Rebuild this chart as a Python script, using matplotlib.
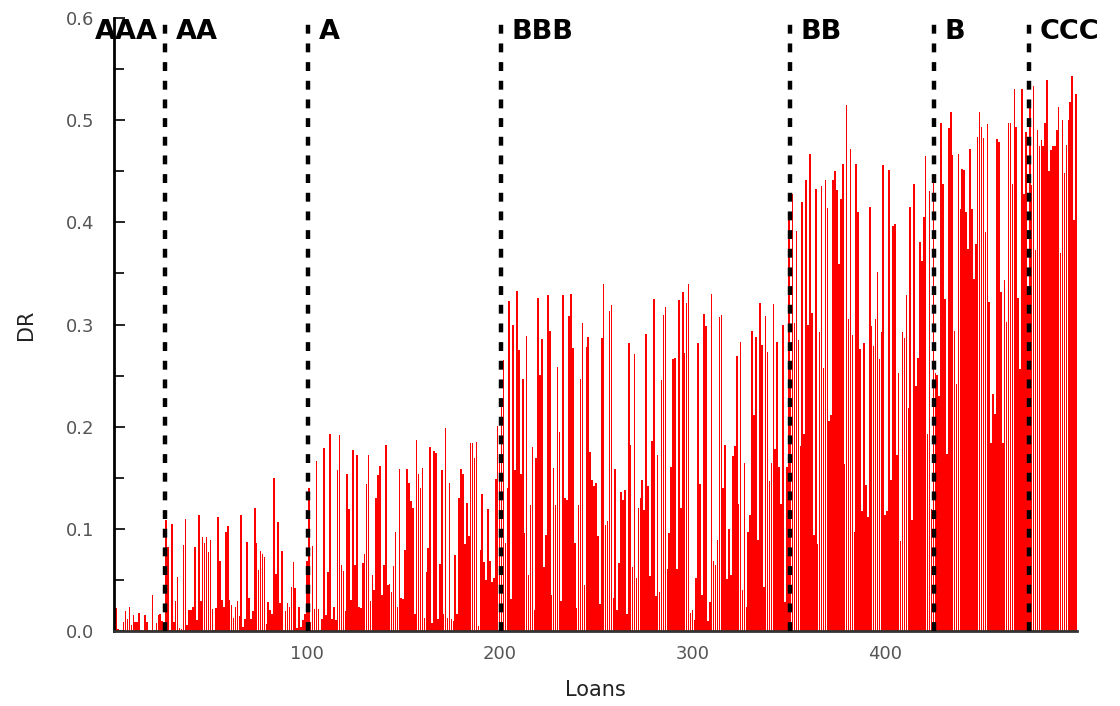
import numpy as np
import matplotlib
matplotlib.use("Agg")
import matplotlib.pyplot as plt

# Default rate per loan, grouped by rating class
dr_aaa = [0.023, 0.002, 0.001, 0.0, 0.009, 0.020, 0.012, 0.024, 0.006, 0.016,
          0.009, 0.009, 0.018, 0.001, 0.0, 0.016, 0.009, 0.001, 0.0, 0.035,
          0.001, 0.008, 0.016, 0.017, 0.010, 0.005]
dr_aa = [0.109, 0.082, 0.001, 0.105, 0.009, 0.029, 0.053, 0.003, 0.002, 0.084,
         0.110, 0.006, 0.021, 0.021, 0.024, 0.082, 0.011, 0.114, 0.029, 0.092,
         0.086, 0.092, 0.077, 0.089, 0.022, 0.001, 0.023, 0.112, 0.069, 0.030,
         0.024, 0.097, 0.103, 0.030, 0.025, 0.013, 0.024, 0.029, 0.015, 0.114,
         0.004, 0.012, 0.087, 0.032, 0.012, 0.020, 0.120, 0.086, 0.060, 0.078,
         0.075, 0.072, 0.007, 0.028, 0.021, 0.017, 0.150, 0.056, 0.107, 0.027,
         0.078, 0.001, 0.020, 0.027, 0.024, 0.043, 0.068, 0.042, 0.003, 0.024,
         0.004, 0.011, 0.017, 0.069]
dr_a = [0.140, 0.009, 0.083, 0.022, 0.166, 0.022, 0.001, 0.012, 0.179, 0.016,
        0.058, 0.193, 0.012, 0.024, 0.011, 0.158, 0.192, 0.065, 0.059, 0.020,
        0.154, 0.119, 0.030, 0.177, 0.065, 0.172, 0.024, 0.023, 0.067, 0.075,
        0.144, 0.172, 0.029, 0.055, 0.040, 0.130, 0.153, 0.162, 0.035, 0.065,
        0.182, 0.045, 0.046, 0.038, 0.064, 0.097, 0.024, 0.159, 0.032, 0.031,
        0.079, 0.159, 0.145, 0.127, 0.120, 0.017, 0.187, 0.154, 0.140, 0.160,
        0.013, 0.058, 0.081, 0.180, 0.008, 0.176, 0.174, 0.012, 0.066, 0.158,
        0.017, 0.199, 0.013, 0.145, 0.012, 0.010, 0.074, 0.017, 0.130, 0.159,
        0.154, 0.085, 0.125, 0.093, 0.184, 0.184, 0.169, 0.185, 0.005, 0.079,
        0.134, 0.068, 0.050, 0.119, 0.069, 0.048, 0.052, 0.149, 0.201, 0.172]
dr_bbb = [0.224, 0.265, 0.086, 0.140, 0.323, 0.031, 0.300, 0.158, 0.333, 0.275,
          0.154, 0.247, 0.096, 0.289, 0.055, 0.123, 0.180, 0.021, 0.169, 0.326,
          0.251, 0.286, 0.063, 0.094, 0.329, 0.294, 0.035, 0.160, 0.123, 0.258,
          0.195, 0.029, 0.329, 0.130, 0.128, 0.308, 0.330, 0.277, 0.086, 0.023,
          0.123, 0.247, 0.301, 0.045, 0.278, 0.288, 0.175,
          0.148, 0.142, 0.145, 0.093, 0.026, 0.287, 0.340, 0.104, 0.108, 0.313,
          0.319, 0.032, 0.159, 0.021, 0.067, 0.136, 0.128, 0.138, 0.017, 0.282,
          0.182, 0.063, 0.271, 0.052, 0.120, 0.130, 0.148, 0.118, 0.291, 0.142,
          0.054, 0.186, 0.325, 0.034, 0.172, 0.038, 0.246, 0.309, 0.317, 0.061,
          0.096, 0.161, 0.266, 0.267, 0.061, 0.324, 0.120, 0.332, 0.272, 0.321,
          0.340,
          0.018, 0.021, 0.011, 0.052, 0.282, 0.144, 0.035, 0.310, 0.299, 0.010,
          0.028, 0.330, 0.069, 0.065, 0.089, 0.307, 0.309, 0.140, 0.182, 0.051,
          0.100, 0.055, 0.171, 0.181, 0.269, 0.124, 0.283, 0.040, 0.164, 0.024,
          0.097, 0.114, 0.294, 0.211, 0.288, 0.089, 0.321, 0.280, 0.043, 0.308,
          0.273, 0.147, 0.164, 0.320, 0.178, 0.283, 0.161, 0.124, 0.300, 0.028,
          0.161, 0.410]
dr_bb = [0.264, 0.428, 0.301, 0.392, 0.285, 0.181, 0.420, 0.193, 0.441, 0.300,
         0.467, 0.311, 0.094, 0.433, 0.085, 0.293, 0.436, 0.257, 0.441, 0.414,
         0.206, 0.211, 0.441, 0.450, 0.432, 0.359, 0.423, 0.457, 0.163, 0.515,
         0.305, 0.472, 0.290, 0.097, 0.457, 0.410, 0.276,
         0.117, 0.282, 0.143, 0.112, 0.415, 0.299, 0.279, 0.305, 0.351, 0.266,
         0.293, 0.456, 0.114, 0.117, 0.451, 0.148, 0.396, 0.398, 0.172, 0.253,
         0.088, 0.293, 0.287, 0.329, 0.218, 0.415, 0.109, 0.438, 0.240, 0.267,
         0.381, 0.362, 0.405, 0.465, 0.193, 0.431, 0.119, 0.444]
dr_b = [0.253, 0.251, 0.230, 0.497, 0.438, 0.325, 0.173, 0.492, 0.508, 0.466,
        0.294, 0.242, 0.467, 0.413, 0.452, 0.451, 0.410, 0.374, 0.472, 0.413,
        0.345, 0.379, 0.484, 0.508, 0.493, 0.483, 0.391, 0.496, 0.322, 0.184,
        0.232, 0.212, 0.482, 0.479, 0.332, 0.184, 0.344, 0.302, 0.497, 0.497,
        0.438, 0.531, 0.493, 0.326, 0.256, 0.531, 0.428, 0.488, 0.335]
dr_ccc = [0.517, 0.437, 0.533, 0.373, 0.490, 0.475, 0.481, 0.475, 0.497, 0.539,
          0.450, 0.471, 0.475, 0.475, 0.490, 0.513, 0.370, 0.500, 0.448, 0.476,
          0.500, 0.518, 0.543, 0.402, 0.526]

ratings = ["AAA", "AA", "A", "BBB", "BB", "B", "CCC"]
groups = [dr_aaa, dr_aa, dr_a, dr_bbb, dr_bb, dr_b, dr_ccc]

dr = np.concatenate([np.asarray(g, dtype=float) for g in groups])
loans = np.arange(1, len(dr) + 1)
sizes = [len(g) for g in groups]
bounds = np.cumsum(sizes)[:-1] + 0.5
starts = np.concatenate([[-10.0], bounds])

fig = plt.figure(figsize=(11.2, 7.06), dpi=100)
ax = fig.add_axes([0.1018, 0.1062, 0.8598, 0.8683])

ax.bar(loans, dr, width=0.82, color="#ff0000", linewidth=0, align="center")

for b in bounds:
    ax.axvline(b, ymin=0, ymax=1, color="black", linewidth=3.2,
               linestyle=(0, (2.0, 2.2)), dash_capstyle="butt", zorder=5)

for name, s in zip(ratings, starts):
    x = s if name == "AAA" else s + 5.5
    ax.text(x, 0.586, name, ha="left", va="center", fontsize=19.5,
            fontweight="bold", color="black", zorder=6, clip_on=False)

ax.set_xlim(0, 499.5)
ax.set_ylim(0, 0.6)
ax.set_xticks([100, 200, 300, 400])
ax.set_yticks([0.0, 0.1, 0.2, 0.3, 0.4, 0.5, 0.6])
ax.set_yticklabels([f"{v:.1f}" for v in [0.0, 0.1, 0.2, 0.3, 0.4, 0.5, 0.6]])
ax.set_yticks(np.arange(0.05, 0.6, 0.1), minor=True)

ax.tick_params(axis="y", which="major", direction="in", length=8, width=1.2,
               color="black", pad=14, labelsize=13, labelcolor="#555555")
ax.tick_params(axis="y", which="minor", direction="in", length=7, width=1.2,
               color="black")
ax.tick_params(axis="x", which="major", direction="in", length=0, pad=10,
               labelsize=13, labelcolor="#555555")

for side in ("top", "right"):
    ax.spines[side].set_visible(False)
ax.spines["left"].set_linewidth(2.0)
ax.spines["left"].set_color("black")
ax.spines["bottom"].set_linewidth(2.0)
ax.spines["bottom"].set_color("#333333")

ax.set_xlabel("Loans", fontsize=15, color="#222222", labelpad=12)
ax.set_ylabel("DR", fontsize=15, color="#222222", labelpad=22)

fig.savefig("out.png", dpi=100)
